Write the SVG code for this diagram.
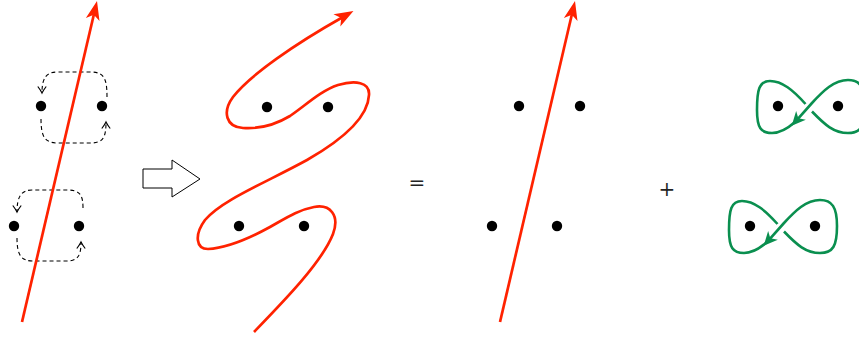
<svg xmlns="http://www.w3.org/2000/svg" width="859" height="343" viewBox="0 0 859 343">
<style>
.red{fill:none;stroke:#ff2200;stroke-width:2.7}
.grn{fill:none;stroke:#0a8f4f;stroke-width:2.6}
.dash{fill:none;stroke:#000;stroke-width:1.1;stroke-dasharray:4 3}
.dot{fill:#000}
.sym{font-family:"DejaVu Serif","Liberation Serif",serif;font-size:20px;fill:#222;text-anchor:middle}
</style>
<defs>
<marker id="ra" markerUnits="userSpaceOnUse" viewBox="-22 -10 24 20" markerWidth="24" markerHeight="20" refX="-12" refY="0" orient="auto" overflow="visible">
<path d="M0,0 L-19,-7 L-14,0 L-19,7 Z" fill="#ff2200"/>
</marker>
<marker id="ga" markerUnits="userSpaceOnUse" viewBox="-16 -8 18 16" markerWidth="18" markerHeight="16" refX="-8" refY="0" orient="auto" overflow="visible">
<path d="M0,0 L-14,-6.5 L-10,0 L-14,6.5 Z" fill="#0a8f4f"/>
</marker>
<marker id="ka" markerUnits="userSpaceOnUse" viewBox="-8 -6 9 12" markerWidth="9" markerHeight="12" refX="0" refY="0" orient="auto" overflow="visible">
<path d="M-6.5,-4.2 Q-2.5,-1.2 0,0 Q-2.5,1.2 -6.5,4.2" fill="none" stroke="#000" stroke-width="1.2"/>
</marker>
</defs>

<g id="panel-left">
<g id="loops-left">
<path class="dash" d="M107 97 C107 78 104 72 90 72 L58 72 C46 72 42 78 42 93" marker-end="url(#ka)"/>
<path class="dash" d="M41 119 C41 137 45 143 58 143 L90 143 C103 143 106 138 106 122" marker-end="url(#ka)"/>
<path class="dash" d="M83 208 C83 195 80 190 67 190 L32 190 C21 190 17 197 17 212" marker-end="url(#ka)"/>
<path class="dash" d="M17 238 C17 255 21 261 33 261 L66 261 C78 261 81 256 81 242" marker-end="url(#ka)"/>
</g>
<path id="line-left" class="red" d="M22 322 L94.27 12.69" marker-end="url(#ra)"/>
<g id="dots-left">
<circle class="dot" cx="41" cy="106" r="5.2"/>
<circle class="dot" cx="102" cy="106" r="5.2"/>
<circle class="dot" cx="14" cy="226" r="5.2"/>
<circle class="dot" cx="79" cy="226" r="5.2"/>
</g>
</g>

<g id="implies">
<path d="M143 169 L172 169 L172 160 L200 179 L172 197 L172 188 L143 188 Z" fill="#fff" stroke="#000" stroke-width="1"/>
</g>

<g id="panel-middle">
<path id="curve-middle" class="red" d="M254 332 C285 300 322 262 333 234 C340 215 330 204 314 207 C298 210 286 218 270 227 C250 238 226 248 208 249 C196 249 194 235 205 220 C222 200 265 183 307 160 C342 140 368 118 369 95 C370 82 355 80 338 85 C320 91 305 106 290 116 C275 125 258 129 243 128 C226 127 222 112 233 97 C250 75 295 44 343 17" marker-end="url(#ra)"/>
<circle class="dot" cx="267" cy="107" r="5.2"/>
<circle class="dot" cx="328" cy="107" r="5.2"/>
<circle class="dot" cx="239" cy="226" r="5.2"/>
<circle class="dot" cx="304" cy="226" r="5.2"/>
</g>

<text id="eq" class="sym" x="417" y="190">=</text>

<g id="panel-right">
<path id="line-right" class="red" d="M500 322 L572.27 12.69" marker-end="url(#ra)"/>
<circle class="dot" cx="519" cy="106" r="5.2"/>
<circle class="dot" cx="580" cy="106" r="5.2"/>
<circle class="dot" cx="492" cy="226" r="5.2"/>
<circle class="dot" cx="557" cy="226" r="5.2"/>
</g>

<text id="plus" class="sym" x="667" y="196">+</text>

<g id="eight-top" transform="translate(28,-120)">
<path class="grn" d="M784 231.5 C797 245 806 253 820 253 C833 253 837 246 837 226 C837 207 832 200 820 200 C806 200 795 211 784 223 L769 239.8" marker-end="url(#ga)"/>
<path class="grn" d="M767 242 C758 250 751 253 744 253 C733 253 729 248 729 230 C729 210 731 201 742 201 C754 201 765 210 777.5 224"/>
</g>
<circle class="dot" cx="778" cy="106" r="5.2"/>
<circle class="dot" cx="838" cy="106" r="5.2"/>

<g id="eight-bottom">
<path class="grn" d="M784 231.5 C797 245 806 253 820 253 C833 253 837 246 837 226 C837 207 832 200 820 200 C806 200 795 211 784 223 L769 239.8" marker-end="url(#ga)"/>
<path class="grn" d="M767 242 C758 250 751 253 744 253 C733 253 729 248 729 230 C729 210 731 201 742 201 C754 201 765 210 777.5 224"/>
<circle class="dot" cx="750" cy="226" r="5.2"/>
<circle class="dot" cx="815" cy="226" r="5.2"/>
</g>
</svg>
